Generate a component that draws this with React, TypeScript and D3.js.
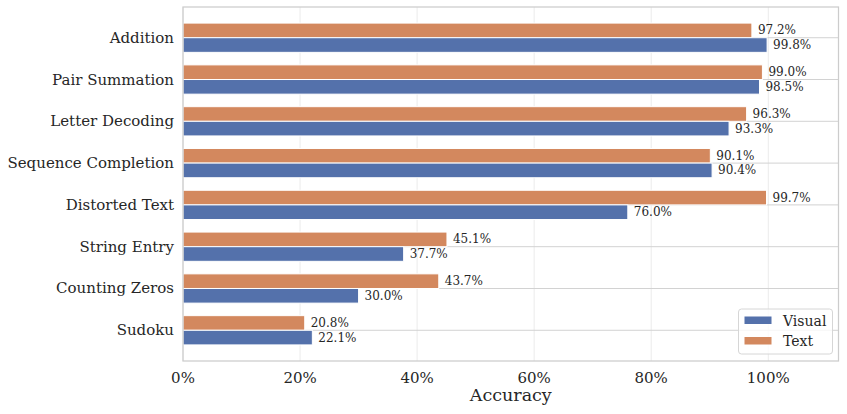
import { useEffect, useRef } from 'react';
import * as d3 from 'd3';

const tasks = ['Addition', 'Pair Summation', 'Letter Decoding', 'Sequence Completion', 'Distorted Text', 'String Entry', 'Counting Zeros', 'Sudoku'];
const textAcc = [97.2, 99.0, 96.3, 90.1, 99.7, 45.1, 43.7, 20.8];
const visualAcc = [99.8, 98.5, 93.3, 90.4, 76.0, 37.7, 30.0, 22.1];
const xTicks = [0, 20, 40, 60, 80, 100];
const legendItems = ['Visual', 'Text'];

const BLUE = '#5471ab';
const ORANGE = '#d3885e';
const FONT = '"DejaVu Serif", serif';

const App = () => {
    const ref = useRef<SVGSVGElement | null>(null);

    useEffect(() => {
        const svg = d3.select(ref.current);
        svg.selectAll('*').remove();

        const left = 183, right = 838.5, top = 7, bottom = 361;

        const x = d3.scaleLinear().domain([0, 112]).range([left, right]);
        const y = d3.scaleLinear().domain([-0.735, 7.735]).range([top, bottom]);
        const barH = y(0.35) - y(0);

        // grid
        svg.append('g').selectAll('line').data(xTicks).join('line')
            .attr('x1', d => x(d)).attr('x2', d => x(d))
            .attr('y1', top).attr('y2', bottom)
            .attr('stroke', '#ebebeb').attr('stroke-width', 1);
        svg.append('g').selectAll('line').data(tasks).join('line')
            .attr('x1', left).attr('x2', right)
            .attr('y1', (_, i) => y(i)).attr('y2', (_, i) => y(i))
            .attr('stroke', '#d2d2d2').attr('stroke-width', 1);

        // bars
        const series = [
            { name: 'Text', vals: textAcc, color: ORANGE, off: -0.35 },
            { name: 'Visual', vals: visualAcc, color: BLUE, off: 0 },
        ];
        series.forEach(s => {
            svg.append('g').selectAll('rect').data(s.vals).join('rect')
                .attr('x', x(0))
                .attr('y', (_, i) => y(i + s.off))
                .attr('width', d => x(d) - x(0))
                .attr('height', barH)
                .attr('fill', s.color)
                .attr('stroke', 'white').attr('stroke-width', 1);
            svg.append('g').selectAll('text').data(s.vals).join('text')
                .attr('x', d => x(d) + 6)
                .attr('y', (_, i) => y(i + s.off + 0.175))
                .attr('dominant-baseline', 'central')
                .style('font-family', FONT).style('font-size', '12px').attr('fill', '#262626')
                .text(d => d.toFixed(1) + '%');
        });

        // spines
        svg.append('rect')
            .attr('x', left).attr('y', top).attr('width', right - left).attr('height', bottom - top)
            .attr('fill', 'none').attr('stroke', '#cccccc').attr('stroke-width', 1.25);

        // y tick labels
        svg.append('g').selectAll('text').data(tasks).join('text')
            .attr('x', left - 9).attr('y', (_, i) => y(i))
            .attr('text-anchor', 'end').attr('dominant-baseline', 'central')
            .style('font-family', FONT).style('font-size', '15px').attr('fill', '#262626')
            .text(d => d);

        // x tick labels
        svg.append('g').selectAll('text').data(xTicks).join('text')
            .attr('x', d => x(d)).attr('y', 383)
            .attr('text-anchor', 'middle')
            .style('font-family', FONT).style('font-size', '15px').attr('fill', '#262626')
            .text(d => d + '%');

        svg.append('text')
            .attr('x', (left + right) / 2).attr('y', 401)
            .attr('text-anchor', 'middle')
            .style('font-family', FONT).style('font-size', '17.5px').attr('fill', '#262626')
            .text('Accuracy');

        // legend
        const lg = svg.append('g');
        lg.append('rect')
            .attr('x', 738.5).attr('y', 309).attr('width', 94).attr('height', 45).attr('rx', 3)
            .attr('fill', 'white').attr('fill-opacity', 0.8)
            .attr('stroke', '#d6d6d6').attr('stroke-width', 1);
        legendItems.forEach((name, i) => {
            lg.append('rect')
                .attr('x', 744.5).attr('y', 316.5 + i * 20.5).attr('width', 27).attr('height', 7.5)
                .attr('fill', name === 'Visual' ? BLUE : ORANGE);
            lg.append('text')
                .attr('x', 783).attr('y', 320.5 + i * 20.5)
                .attr('dominant-baseline', 'central')
                .style('font-family', FONT).style('font-size', '14px').attr('fill', '#262626')
                .text(name);
        });
    }, []);

    return (
        <svg ref={ref} width={847} height={414} style={{ position: 'absolute', left: 0, top: 0 }}></svg>
    );
};

export default App;
